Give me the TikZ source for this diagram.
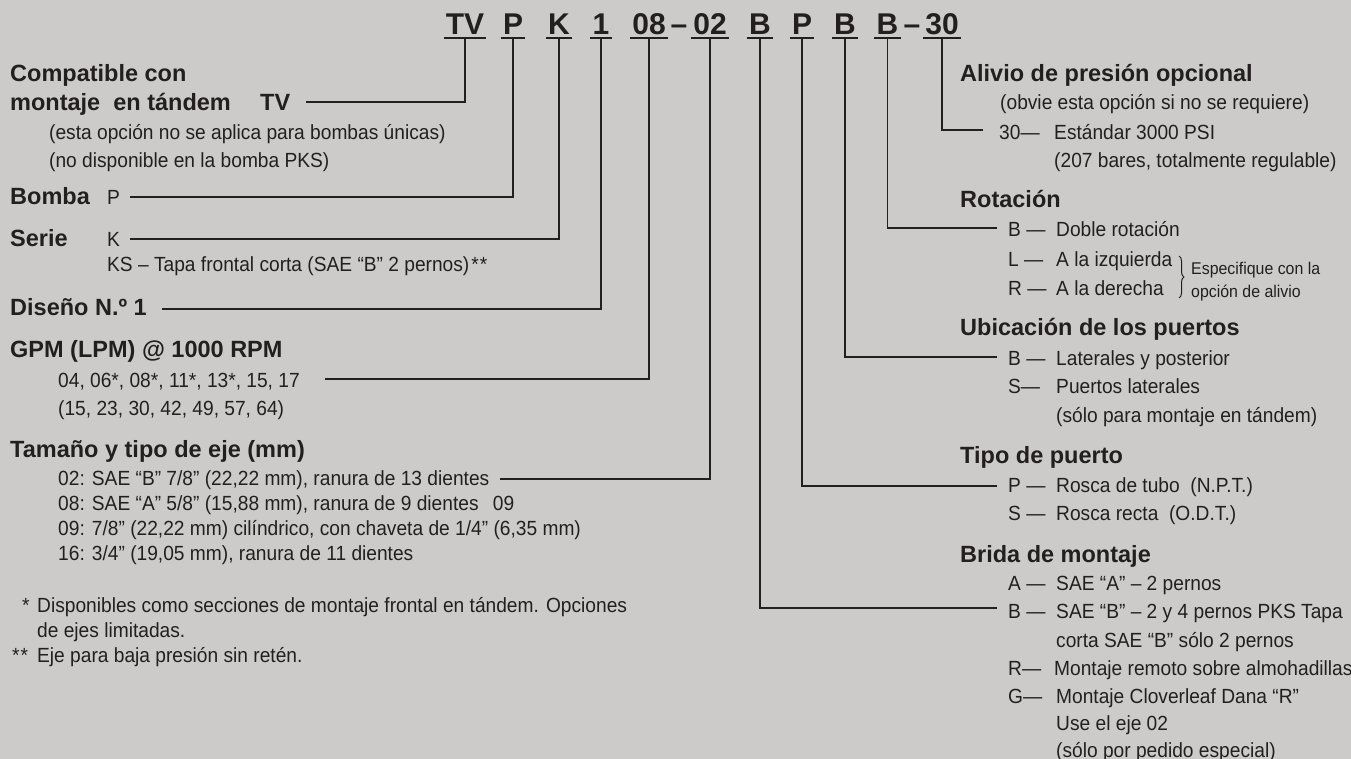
\documentclass[tikz,border=0pt]{standalone}
\usepackage{fontspec}
\setmainfont{Liberation Sans}
\newfontfamily\cond{Liberation Sans}[FakeStretch=0.935]
\usetikzlibrary{decorations.pathreplacing}
\definecolor{bg}{RGB}{205,203,201}
\definecolor{ink}{RGB}{35,31,32}
\begin{document}
\begin{tikzpicture}[x=1pt,y=-1pt,
  every node/.style={inner sep=0pt, text=ink},
  hdr/.style={anchor=base, font=\fontsize{30}{36}\selectfont\bfseries},
  hd/.style={anchor=base west, font=\fontsize{23.5}{28}\selectfont\bfseries},
  tx/.style={anchor=base west, font=\cond\fontsize{20.5}{24}\selectfont},
  sm/.style={anchor=base west, font=\cond\fontsize{17}{20}\selectfont},
  ln/.style={draw=ink, line width=1.8pt}]
\fill[bg] (0,0) rectangle (1351,759);
\useasboundingbox (0,0) rectangle (1351,759);

% header code
\node[hdr] (hTV) at (465,35) {TV};
\node[hdr] (hP) at (513,35) {P};
\node[hdr] (hK) at (559,35) {K};
\node[hdr] (hOne) at (601,35) {1};
\node[hdr] (hGpm) at (649,35) {08};
\node[hdr] (hDa) at (679,35) {–};
\node[hdr] (hEje) at (710,35) {02};
\node[hdr] (hBri) at (760,35) {B};
\node[hdr] (hTip) at (802,35) {P};
\node[hdr] (hUbi) at (845,35) {B};
\node[hdr] (hRot) at (887.5,35) {B};
\node[hdr] (hDb) at (912,35) {–};
\node[hdr] (hAli) at (942,35) {30};
\foreach \n in {hTV,hP,hK,hOne,hGpm,hEje,hBri,hTip,hUbi,hRot,hAli}
  \draw[ln] ([xshift=-2pt,yshift=-3pt]\n.base west) -- ([xshift=2pt,yshift=-3pt]\n.base east);

% left column
\node[hd] (lComp) at (10,82) {Compatible con};
\node[hd] (lMont) at (10,111) {montaje\ \ en tándem};
\node[hd] (lTV) at (260,111) {TV};
\node[tx] (lTVa) at (49,140) {(esta opción no se aplica para bombas únicas)};
\node[tx] (lTVb) at (49,168) {(no disponible en la bomba PKS)};
\node[hd] (lBomba) at (10,205) {Bomba};
\node[tx] (lP) at (107,205) {P};
\node[hd] (lSerie) at (10,247) {Serie};
\node[tx] (lK) at (107,247) {K};
\node[tx] (lKS) at (107,272) {KS – Tapa frontal corta (SAE “B” 2 pernos)\kern2pt*\kern1pt*};
\node[hd] (lDis) at (10,315) {Diseño N.º 1};
\node[hd] (lGPM) at (10,357) {GPM (LPM) @ 1000 RPM};
\node[tx] (lGa) at (58,387) {04, 06*, 08*, 11*, 13*, 15, 17};
\node[tx] (lGb) at (58,415) {(15, 23, 30, 42, 49, 57, 64)};
\node[hd] (lTam) at (10,457) {Tamaño y tipo de eje (mm)};
\node[tx] (lEa) at (58,485) {02: SAE “B” 7/8” (22,22 mm), ranura de 13 dientes};
\node[tx] (lEb) at (58,510) {08: SAE “A” 5/8” (15,88 mm), ranura de 9 dientes\hspace{9pt} 09};
\node[tx] (lEc) at (58,535) {09: 7/8” (22,22 mm) cilíndrico, con chaveta de 1/4” (6,35 mm)};
\node[tx] (lEd) at (58,560) {16: 3/4” (19,05 mm), ranura de 11 dientes};
\node[tx] (fA) at (22,612) {*};
\node[tx] (fAa) at (37,612) {Disponibles como secciones de montaje frontal en tándem. Opciones};
\node[tx] (fAb) at (37,637) {de ejes limitadas.};
\node[tx] (fB) at (12,662) {*\kern1pt*};
\node[tx] (fBa) at (37,662) {Eje para baja presión sin retén.};

% right column
\node[hd] (rAli) at (960,82) {Alivio de presión opcional};
\node[tx] (rAlia) at (1000,110) {(obvie esta opción si no se requiere)};
\node[tx] (rTh) at (999,140) {30—};
\node[tx] (rTha) at (1054,140) {Estándar 3000 PSI};
\node[tx] (rThb) at (1054,168) {(207 bares, totalmente regulable)};
\node[hd] (rRot) at (960,208) {Rotación};
\node[tx] (rRB) at (1008,237) {B —};
\node[tx] (rRBa) at (1056,237) {Doble rotación};
\node[tx] (rRL) at (1008,266) {L —};
\node[tx] (rRLa) at (1056,266) {A la izquierda};
\node[tx] (rRR) at (1008,295) {R —};
\node[tx] (rRRa) at (1056,295) {A la derecha};
\draw[ink, line width=1pt, decorate, decoration={brace, amplitude=5pt}] (1179,256) -- (1179,298);
\node[sm] (rEspa) at (1191,275) {Especifique con la};
\node[sm] (rEspb) at (1191,297) {opción de alivio};
\node[hd] (rUbi) at (960,335) {Ubicación de los puertos};
\node[tx] (rUB) at (1008,365) {B —};
\node[tx] (rUBa) at (1056,365) {Laterales y posterior};
\node[tx] (rUS) at (1008,393) {S—};
\node[tx] (rUSa) at (1056,393) {Puertos laterales};
\node[tx] (rUSb) at (1056,422) {(sólo para montaje en tándem)};
\node[hd] (rTip) at (960,463) {Tipo de puerto};
\node[tx] (rTP) at (1008,492) {P —};
\node[tx] (rTPa) at (1056,492) {Rosca de tubo\ \ (N.P.T.)};
\node[tx] (rTS) at (1008,520) {S —};
\node[tx] (rTSa) at (1056,520) {Rosca recta\ \ (O.D.T.)};
\node[hd] (rBri) at (960,562) {Brida de montaje};
\node[tx] (rBA) at (1008,590) {A —};
\node[tx] (rBAa) at (1056,590) {SAE “A” – 2 pernos};
\node[tx] (rBB) at (1008,618) {B —};
\node[tx] (rBBa) at (1056,618) {SAE “B” – 2 y 4 pernos PKS Tapa};
\node[tx] (rBBb) at (1056,647) {corta SAE “B” sólo 2 pernos};
\node[tx] (rBR) at (1008,675) {R—};
\node[tx] (rBRa) at (1054,675) {Montaje remoto sobre almohadillas};
\node[tx] (rBG) at (1008,703) {G—};
\node[tx] (rBGa) at (1056,703) {Montaje Cloverleaf Dana “R”};
\node[tx] (rBGb) at (1056,730) {Use el eje 02};
\node[tx] (rBGc) at (1056,757) {(sólo por pedido especial)};

% connector ends
\coordinate (eTV) at (306,102);
\coordinate (eP) at (130,197);
\coordinate (eK) at (130,239);
\coordinate (eOne) at (162,309);
\coordinate (eGpm) at (325,379);
\coordinate (eEje) at (500,479);
\coordinate (eBri) at (997,608);
\coordinate (eTip) at (997,486);
\coordinate (eUbi) at (997,357);
\coordinate (eRot) at (997,228);
\coordinate (eAli) at (983,130);
\foreach \h/\e in {hTV/eTV,hP/eP,hK/eK,hOne/eOne,hGpm/eGpm,hEje/eEje,hBri/eBri,hTip/eTip,hUbi/eUbi,hRot/eRot,hAli/eAli}
  \draw[ln] ([yshift=-3pt]\h.base) |- (\e);
\end{tikzpicture}
\end{document}
